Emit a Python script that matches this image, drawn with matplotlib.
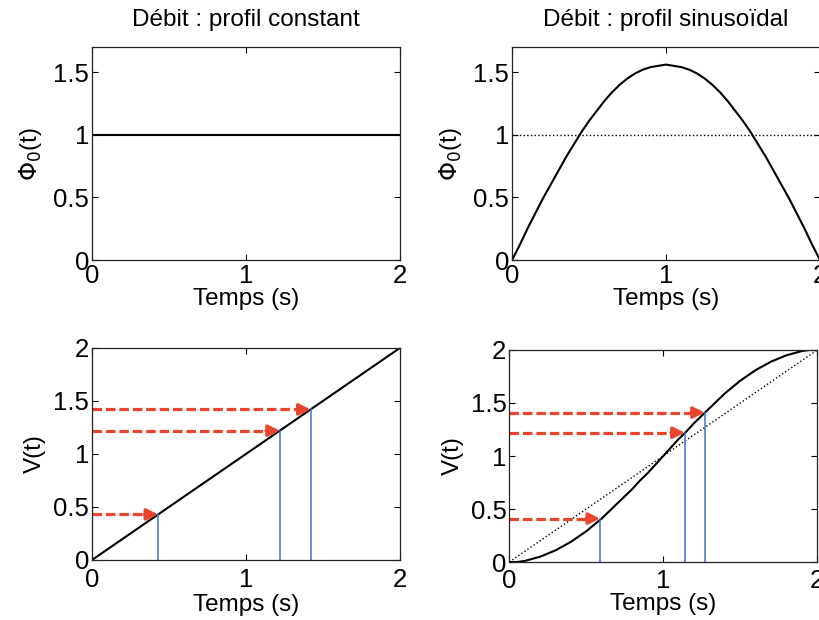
import matplotlib.pyplot as plt

plt.rcParams['font.family'] = ['Liberation Sans', 'DejaVu Sans']

# time samples (s)
t = [0.0, 0.05, 0.1, 0.15, 0.2, 0.25, 0.3, 0.35, 0.4, 0.45, 0.5,
     0.55, 0.6, 0.65, 0.7, 0.75, 0.8, 0.85, 0.9, 0.95, 1.0,
     1.05, 1.1, 1.15, 1.2, 1.25, 1.3, 1.35, 1.4, 1.45, 1.5,
     1.55, 1.6, 1.65, 1.7, 1.75, 1.8, 1.85, 1.9, 1.95, 2.0]

# constant profile
phi_const = [1.0] * len(t)
v_const = t

# sinusoidal profile
phi_sin = [0.0, 0.12, 0.25, 0.37, 0.49, 0.60, 0.71, 0.82, 0.92, 1.02, 1.11,
           1.19, 1.27, 1.34, 1.40, 1.45, 1.49, 1.52, 1.54, 1.55, 1.56,
           1.55, 1.54, 1.52, 1.49, 1.45, 1.40, 1.34, 1.27, 1.19, 1.11,
           1.02, 0.92, 0.82, 0.71, 0.60, 0.49, 0.37, 0.25, 0.12, 0.0]
v_sin = [0.0, 0.0, 0.01, 0.03, 0.05, 0.08, 0.11, 0.15, 0.19, 0.24, 0.29,
         0.35, 0.41, 0.48, 0.55, 0.62, 0.69, 0.77, 0.84, 0.92, 1.0,
         1.08, 1.16, 1.23, 1.31, 1.38, 1.45, 1.52, 1.59, 1.65, 1.71,
         1.76, 1.81, 1.85, 1.89, 1.92, 1.95, 1.97, 1.99, 2.0, 2.0]

# arrow levels and matching times
lev_const = [0.43, 1.22, 1.42]
t_const = [0.43, 1.22, 1.42]
lev_sin = [0.41, 1.22, 1.41]
t_sin = [0.59, 1.14, 1.27]

red = '#e8452c'
blue = '#3b6fd6'

fig = plt.figure(figsize=(8.19, 6.2), dpi=100)
ax1 = fig.add_axes([0.1123, 0.5806, 0.376, 0.3435])
ax2 = fig.add_axes([0.6252, 0.5806, 0.376, 0.3435])
ax3 = fig.add_axes([0.1123, 0.0968, 0.376, 0.342])
ax4 = fig.add_axes([0.6218, 0.0935, 0.376, 0.342])


def style(ax, ymax, yticks, ylabel, xpad, lpad, ypad):
    ax.set_xlim(0, 2)
    ax.set_ylim(0, ymax)
    ax.set_xticks([0, 1, 2])
    ax.set_xticklabels(['0', '1', '2'])
    ax.set_yticks(yticks)
    ax.set_yticklabels(['%g' % y for y in yticks])
    ax.tick_params(direction='in', top=True, right=True, labelsize=18.5, length=4)
    ax.tick_params(axis='x', pad=xpad)
    ax.tick_params(axis='y', pad=2)
    ax.set_xlabel('Temps (s)', fontsize=17.5, labelpad=lpad)
    ax.set_ylabel(ylabel, fontsize=17.5, labelpad=ypad)
    for s in ax.spines.values():
        s.set_color('#222222')
        s.set_linewidth(0.9)


ax1.plot(t, phi_const, color='black', lw=1.5)
style(ax1, 1.7, [0, 0.5, 1, 1.5], r'$\Phi_0$(t)', 3, 0, 7)
ax1.set_title('Débit : profil constant', fontsize=17.5, pad=15)

ax2.plot(t, phi_sin, color='black', lw=1.5)
ax2.plot([0, 2], [1, 1], ':', color='black', lw=1)
style(ax2, 1.7, [0, 0.5, 1, 1.5], r'$\Phi_0$(t)', 3, 0, 7)
ax2.set_title('Débit : profil sinusoïdal', fontsize=17.5, pad=15)


def arrows(ax, levels, times):
    for lv, tt in zip(levels, times):
        ax.plot([tt, tt], [0, lv], color=blue, lw=1.1)
        ax.plot([0, tt - 0.06], [lv, lv], color=red, lw=2.3, dashes=(3, 1.2))
        ax.annotate('', xy=(tt, lv), xytext=(tt - 0.09, lv),
                    arrowprops=dict(arrowstyle='-|>', color=red, lw=2.3,
                                    mutation_scale=17, shrinkA=0, shrinkB=0))


ax3.plot(t, v_const, color='black', lw=1.5)
arrows(ax3, lev_const, t_const)
style(ax3, 2, [0, 0.5, 1, 1.5, 2], 'V(t)', 6, 1, 5)

ax4.plot([0, 2], [0, 2], ':', color='black', lw=1)
ax4.plot(t, v_sin, color='black', lw=1.5)
arrows(ax4, lev_sin, t_sin)
style(ax4, 2, [0, 0.5, 1, 1.5, 2], 'V(t)', 5, 0, 5)

fig.savefig('out.png', dpi=100)
